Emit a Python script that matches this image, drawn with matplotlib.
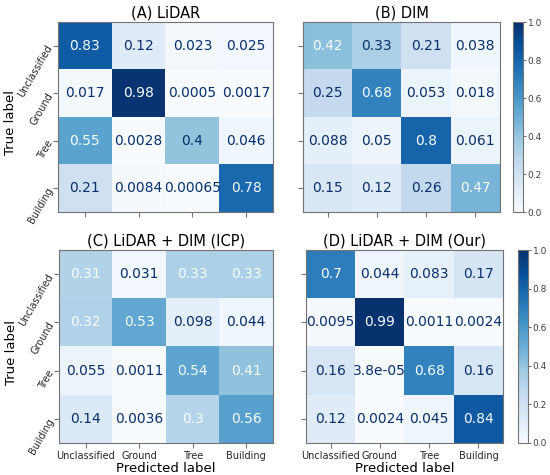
import matplotlib
matplotlib.use('Agg')
import matplotlib.pyplot as plt
import numpy as np

# Class names and confusion matrices (normalised)
classes = ['Unclassified', 'Ground', 'Tree', 'Building']
titles = ['(A) LiDAR', '(B) DIM', '(C) LiDAR + DIM (ICP)', '(D) LiDAR + DIM (Our)']

cm_lidar = [[0.83, 0.12, 0.023, 0.025],
            [0.017, 0.98, 0.0005, 0.0017],
            [0.55, 0.0028, 0.4, 0.046],
            [0.21, 0.0084, 0.00065, 0.78]]
cm_dim = [[0.42, 0.33, 0.21, 0.038],
          [0.25, 0.68, 0.053, 0.018],
          [0.088, 0.05, 0.8, 0.061],
          [0.15, 0.12, 0.26, 0.47]]
cm_icp = [[0.31, 0.031, 0.33, 0.33],
          [0.32, 0.53, 0.098, 0.044],
          [0.055, 0.0011, 0.54, 0.41],
          [0.14, 0.0036, 0.3, 0.56]]
cm_our = [[0.7, 0.044, 0.083, 0.17],
          [0.0095, 0.99, 0.0011, 0.0024],
          [0.16, 3.8e-05, 0.68, 0.16],
          [0.12, 0.0024, 0.045, 0.84]]

W, H = 550, 475


def box(x0, y0, x1, y1):
    """ Pixel box (top-left origin) to figure fraction rect. """
    return [x0 / W, 1 - y1 / H, (x1 - x0) / W, (y1 - y0) / H]


fig = plt.figure(figsize=(5.5, 4.75), dpi=100)
cmap = plt.get_cmap('Blues')
edge = '0.45'

panels = [
    (cm_lidar, box(58, 22, 273, 212), True, False),
    (cm_dim, box(303, 22, 500, 212), False, False),
    (cm_icp, box(59, 250, 273, 443), True, True),
    (cm_our, box(306, 250, 503, 443), False, True),
]
cbar_boxes = [box(513, 22, 523, 212), box(518, 250, 528, 443)]

ims = []
for (cm, rect, show_y, show_x), title in zip(panels, titles):
    cm = np.array(cm)
    ax = fig.add_axes(rect)
    im = ax.imshow(cm, cmap=cmap, vmin=0, vmax=1, aspect='auto',
                   interpolation='nearest')
    ims.append(im)
    thresh = (cm.max() + cm.min()) / 2
    for i in range(cm.shape[0]):
        for j in range(cm.shape[1]):
            color = cmap(0.0) if cm[i, j] > thresh else cmap(1.0)
            ax.text(j, i, format(cm[i, j], '.2g'), ha='center', va='center',
                    color=color, fontsize=10)
    ax.set_xticks(range(len(classes)))
    ax.set_yticks(range(len(classes)))
    if show_x:
        ax.set_xticklabels(classes, fontsize=7, color='0.15')
        ax.set_xlabel('Predicted label', fontsize=9.5, labelpad=1)
    else:
        ax.set_xticklabels([])
    if show_y:
        ax.set_yticklabels(classes, fontsize=7, color='0.15', rotation=60,
                           ha='right', va='center', rotation_mode='anchor')
        ax.set_ylabel('True label', fontsize=9.5)
        # place the label inside the figure, close to the rotated tick labels
        ax.yaxis.set_label_coords(-0.19, 0.47)
    else:
        ax.set_yticklabels([])
    ax.tick_params(axis='both', color=edge, pad=2)
    for s in ax.spines.values():
        s.set_edgecolor(edge)
    ax.set_title(title, fontsize=10.5, pad=3)

for k, rect in enumerate(cbar_boxes):
    cax = fig.add_axes(rect)
    cb = fig.colorbar(ims[2 * k], cax=cax, ticks=[0, 0.2, 0.4, 0.6, 0.8, 1.0])
    cb.ax.tick_params(labelsize=6.5, color=edge, length=2, pad=1.5,
                      labelcolor='0.25')
    cb.outline.set_edgecolor(edge)

fig.savefig('out.png', dpi=100)
